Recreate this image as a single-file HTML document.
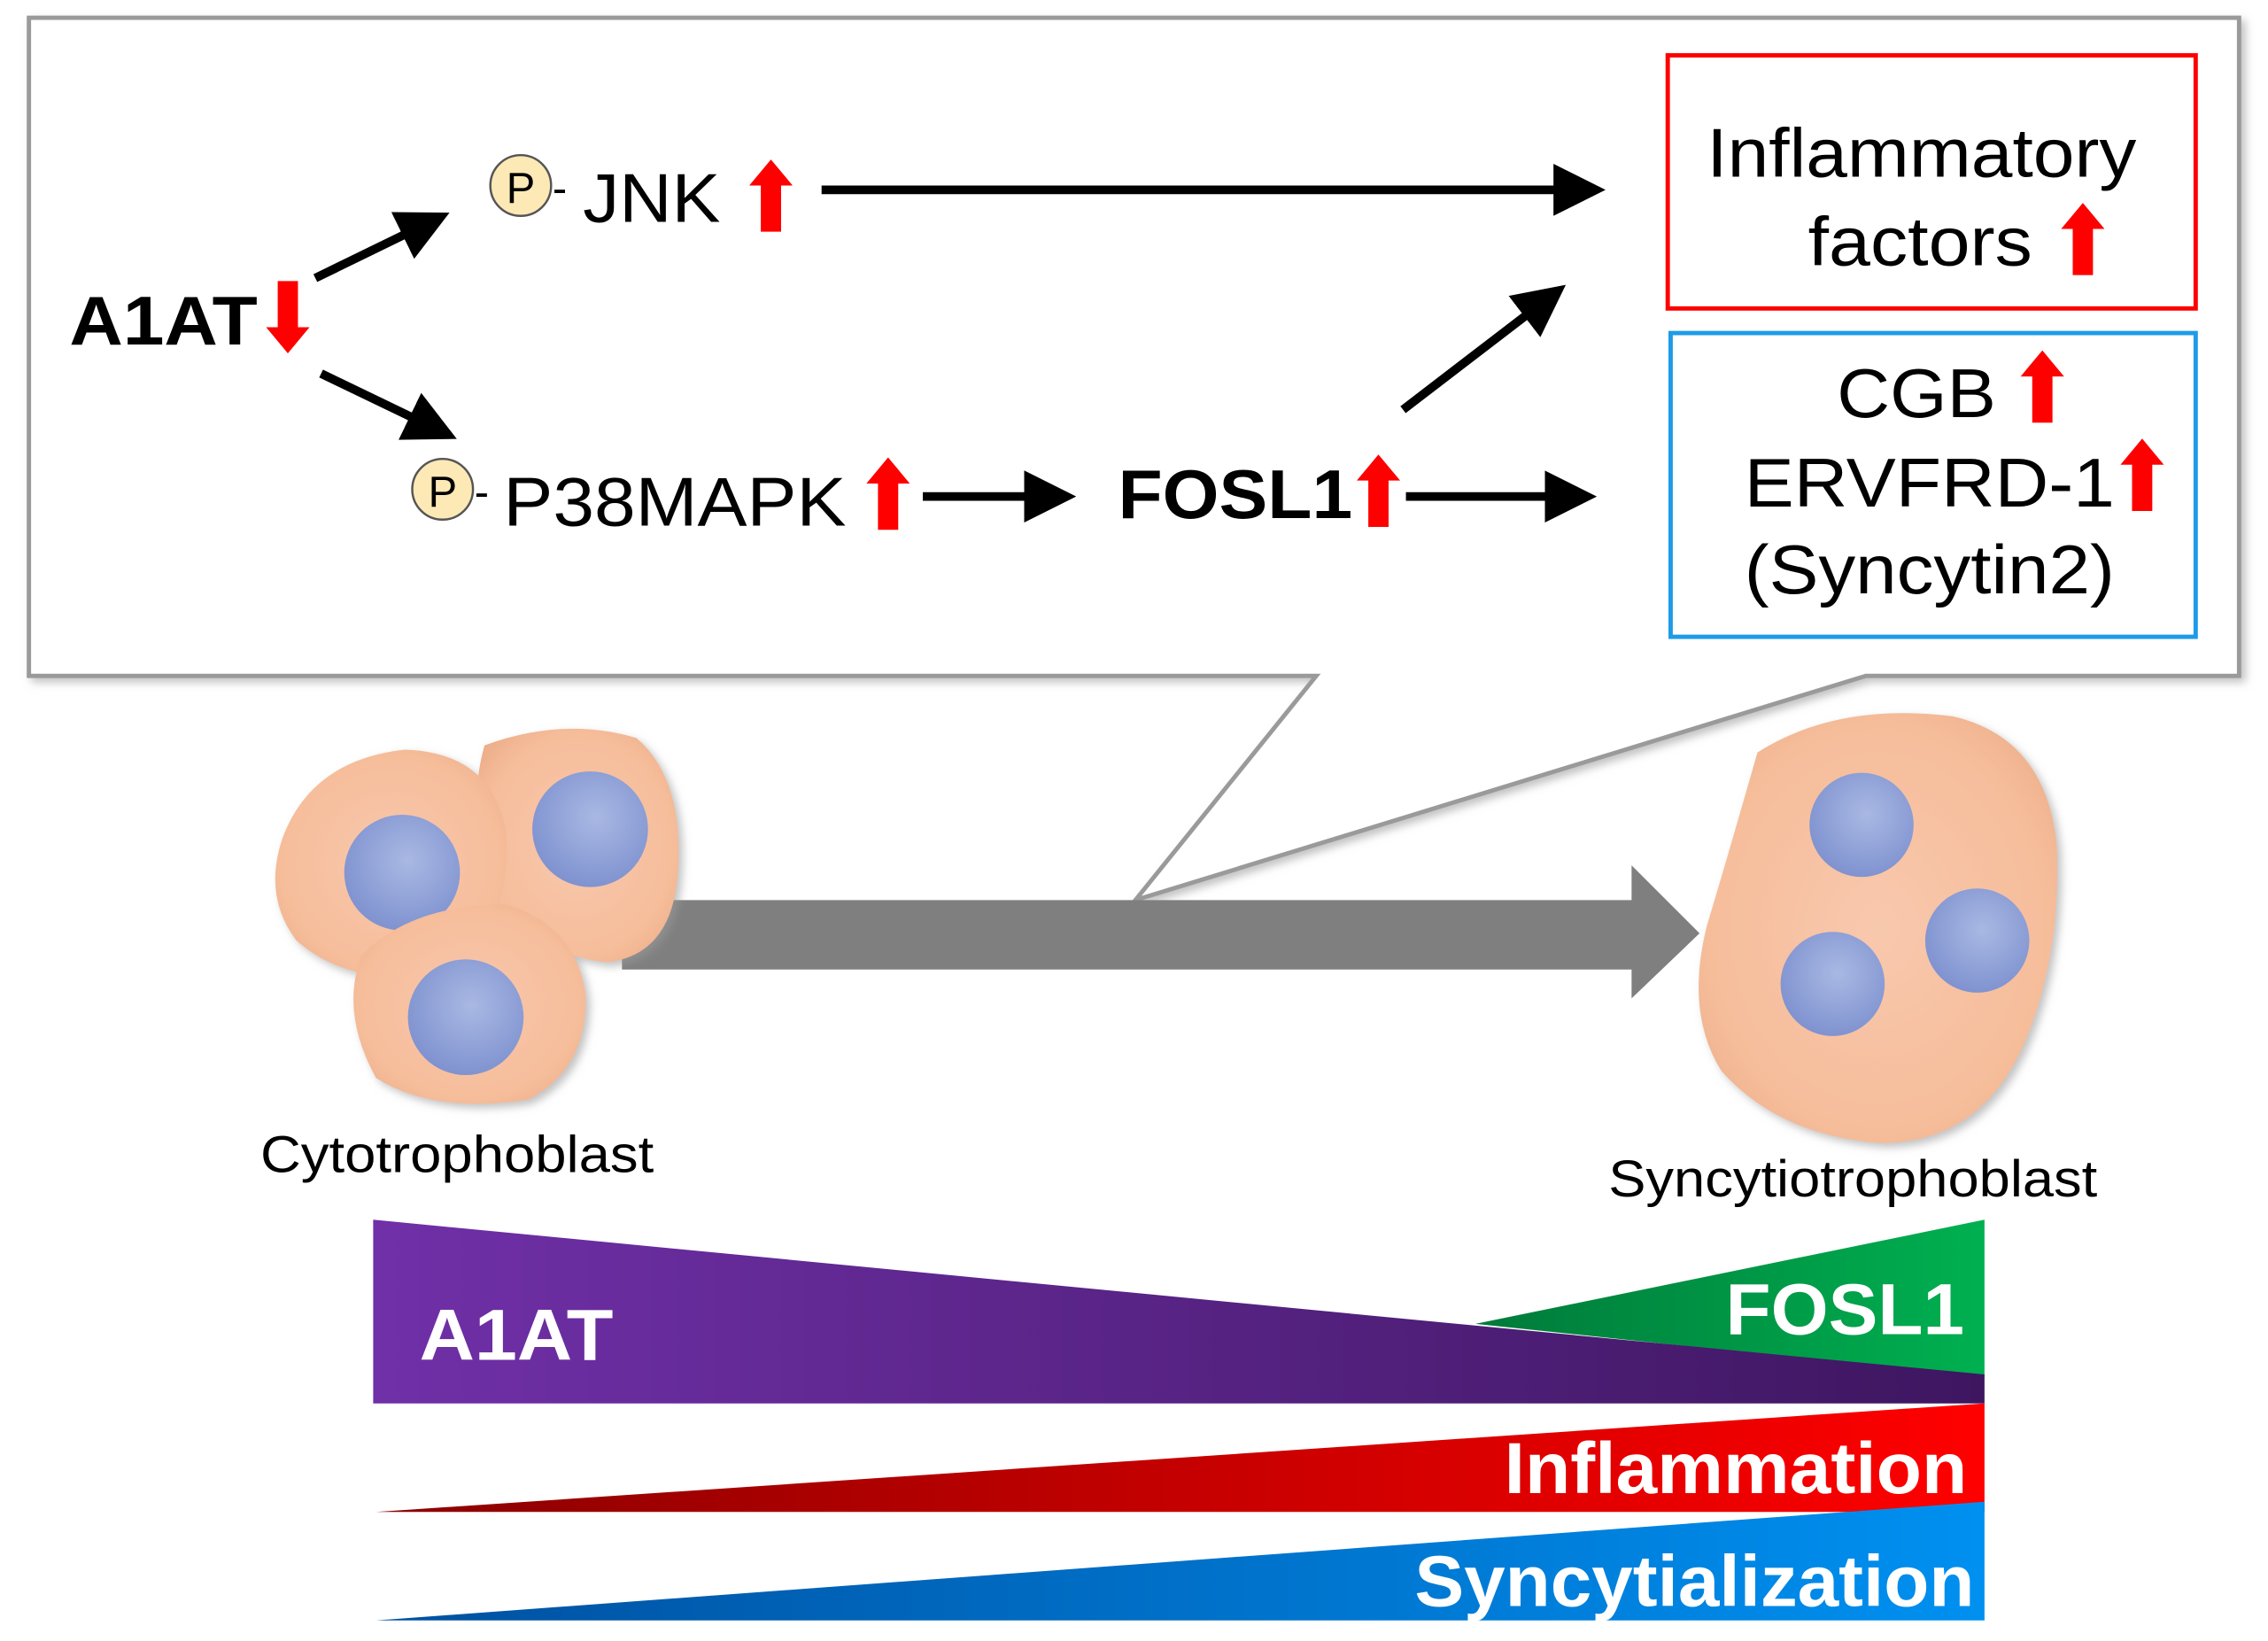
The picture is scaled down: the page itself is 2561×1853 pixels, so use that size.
<!DOCTYPE html>
<html><head><meta charset="utf-8"><style>
html,body{margin:0;padding:0;background:#fff;}
svg{display:block;}
text{font-family:"Liberation Sans",Arial,sans-serif;}
</style></head><body>
<svg width="2561" height="1853" viewBox="0 0 1568 1134" xmlns="http://www.w3.org/2000/svg">
<defs>
<marker id="ah" markerWidth="6" markerHeight="6" refX="4" refY="3" orient="auto" markerUnits="strokeWidth"><path d="M0,0 L6,3 L0,6 z" fill="#000"/></marker>
<symbol id="ru" viewBox="0 0 30 50"><path d="M15,0 L30,18 L22,18 L22,50 L8,50 L8,18 L0,18 z" fill="#f00"/></symbol>
<radialGradient id="cell" cx="50%" cy="50%" r="60%"><stop offset="0" stop-color="#f8c8ae"/><stop offset="0.8" stop-color="#f6bd9a"/><stop offset="1" stop-color="#eeb08c"/></radialGradient>
<radialGradient id="nuc" cx="55%" cy="40%" r="60%"><stop offset="0" stop-color="#a9b8e3"/><stop offset="1" stop-color="#8093d0"/></radialGradient>
<linearGradient id="pur" x1="0" x2="1"><stop offset="0" stop-color="#7030a8"/><stop offset="1" stop-color="#3e1660"/></linearGradient>
<linearGradient id="grn" x1="0" x2="1"><stop offset="0" stop-color="#007a3a"/><stop offset="1" stop-color="#00b050"/></linearGradient>
<linearGradient id="red" x1="0" x2="1"><stop offset="0" stop-color="#8a0000"/><stop offset="1" stop-color="#ff0000"/></linearGradient>
<linearGradient id="blu" x1="0" x2="1"><stop offset="0" stop-color="#0050a0"/><stop offset="1" stop-color="#0090f0"/></linearGradient>
<filter id="sh"><feDropShadow dx="3" dy="3" stdDeviation="3" flood-color="#999" flood-opacity="0.6"/></filter>
</defs>

<path d="M20,12 L1548,12 L1548,467 L1290,467 L785,622 L910,467 L20,467 Z" fill="#fff" stroke="#9a9a9a" stroke-width="3" filter="url(#sh)"/>

<text x="48" y="238" font-size="48" font-weight="bold" textLength="130" lengthAdjust="spacingAndGlyphs">A1AT</text>
<g transform="translate(214,244) rotate(180)"><use href="#ru" width="30" height="50"/></g>
<line x1="218" y1="192" x2="300" y2="152" stroke="#000" stroke-width="6" marker-end="url(#ah)"/>
<line x1="222" y1="258" x2="305" y2="298" stroke="#000" stroke-width="6" marker-end="url(#ah)"/>

<circle cx="360" cy="128" r="21" fill="#fde9b5" stroke="#555" stroke-width="1.5"/>
<text x="360" y="140" font-size="30" text-anchor="middle">P</text>
<text x="382" y="140" font-size="30">-</text>
<text x="403" y="153" font-size="48" textLength="95" lengthAdjust="spacingAndGlyphs">JNK</text>
<use href="#ru" x="518" y="110" width="30" height="50"/>
<line x1="568" y1="131" x2="1098" y2="131" stroke="#000" stroke-width="6" marker-end="url(#ah)"/>

<circle cx="306" cy="338" r="21" fill="#fde9b5" stroke="#555" stroke-width="1.5"/>
<text x="306" y="350" font-size="30" text-anchor="middle">P</text>
<text x="328" y="350" font-size="30">-</text>
<text x="348" y="363" font-size="48" textLength="237" lengthAdjust="spacingAndGlyphs">P38MAPK</text>
<use href="#ru" x="599" y="315" width="30" height="52"/>
<line x1="638" y1="343" x2="732" y2="343" stroke="#000" stroke-width="6" marker-end="url(#ah)"/>
<text x="773" y="358" font-size="48" font-weight="bold" textLength="162" lengthAdjust="spacingAndGlyphs">FOSL1</text>
<use href="#ru" x="938" y="313" width="30" height="52"/>
<line x1="972" y1="343" x2="1092" y2="343" stroke="#000" stroke-width="6" marker-end="url(#ah)"/>
<line x1="970" y1="283" x2="1073" y2="204" stroke="#000" stroke-width="6" marker-end="url(#ah)"/>

<rect x="1153" y="38" width="365" height="175" fill="#fff" stroke="#f00" stroke-width="3"/>
<text x="1180" y="122" font-size="48" textLength="297" lengthAdjust="spacingAndGlyphs">Inflammatory</text>
<text x="1250" y="183" font-size="48" textLength="155" lengthAdjust="spacingAndGlyphs">factors</text>
<use href="#ru" x="1425" y="140" width="30" height="50"/>

<rect x="1155" y="230" width="363" height="210" fill="#fff" stroke="#1e9be8" stroke-width="3"/>
<text x="1270" y="288" font-size="48" textLength="110" lengthAdjust="spacingAndGlyphs">CGB</text>
<use href="#ru" x="1397" y="242" width="30" height="50"/>
<text x="1206" y="350" font-size="48" textLength="256" lengthAdjust="spacingAndGlyphs">ERVFRD-1</text>
<use href="#ru" x="1466" y="303" width="30" height="50"/>
<text x="1206" y="410" font-size="48" textLength="256" lengthAdjust="spacingAndGlyphs">(Syncytin2)</text>

<path d="M430,622 L1128,622 L1128,598 L1175,645 L1128,690 L1128,670 L430,670 Z" fill="#7f7f7f"/>

<g filter="url(#sh)">
<path d="M335,515 Q390,495 440,510 Q475,540 468,610 Q462,660 420,665 Q370,660 340,620 Q322,560 335,515 Z" fill="url(#cell)"/>
<circle cx="408" cy="573" r="40" fill="url(#nuc)"/>
<path d="M195,580 Q215,525 280,518 Q340,520 350,575 Q355,640 310,670 Q245,685 205,650 Q182,620 195,580 Z" fill="url(#cell)"/>
<circle cx="278" cy="603" r="40" fill="url(#nuc)"/>
<path d="M250,660 Q285,625 350,625 Q400,640 405,690 Q405,740 365,760 Q300,770 260,745 Q235,700 250,660 Z" fill="url(#cell)"/>
<circle cx="322" cy="703" r="40" fill="url(#nuc)"/>
</g>
<text x="180" y="810" font-size="36" textLength="272" lengthAdjust="spacingAndGlyphs">Cytotrophoblast</text>

<path d="M1215,520 Q1270,485 1350,495 Q1415,510 1422,585 Q1425,660 1400,720 Q1370,790 1300,790 Q1230,785 1190,740 Q1165,700 1180,640 Q1195,590 1215,520 Z" fill="url(#cell)" filter="url(#sh)"/>
<circle cx="1287" cy="570" r="36" fill="url(#nuc)"/>
<circle cx="1367" cy="650" r="36" fill="url(#nuc)"/>
<circle cx="1267" cy="680" r="36" fill="url(#nuc)"/>
<text x="1112" y="827" font-size="36" textLength="338" lengthAdjust="spacingAndGlyphs">Syncytiotrophoblast</text>

<polygon points="1020,915 1372,843 1372,952" fill="url(#grn)"/>
<polygon points="258,843 1372,950 1372,970 258,970" fill="url(#pur)"/>
<text x="290" y="940" font-size="50" font-weight="bold" fill="#fff" textLength="134" lengthAdjust="spacingAndGlyphs">A1AT</text>
<text x="1193" y="922" font-size="50" font-weight="bold" fill="#fff" textLength="165" lengthAdjust="spacingAndGlyphs">FOSL1</text>
<polygon points="260,1045 1372,970 1372,1045" fill="url(#red)"/>
<text x="1040" y="1032" font-size="50" font-weight="bold" fill="#fff" textLength="320" lengthAdjust="spacingAndGlyphs">Inflammation</text>
<polygon points="260,1120 1372,1038 1372,1120" fill="url(#blu)"/>
<text x="978" y="1110" font-size="50" font-weight="bold" fill="#fff" textLength="387" lengthAdjust="spacingAndGlyphs">Syncytialization</text>
</svg>
</body></html>
